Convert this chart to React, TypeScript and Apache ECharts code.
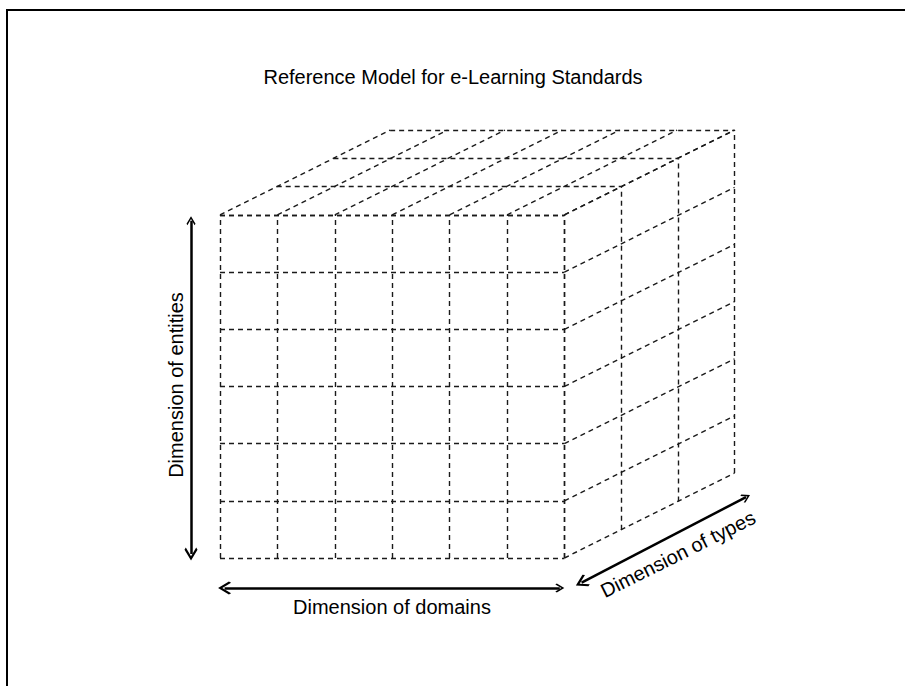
import React, { useEffect, useRef } from "react";
import * as echarts from "echarts";

// Cube structure (cell boundaries along each dimension)
const DOMAIN_TICKS = [0, 1, 2, 3, 4, 5, 6]; // dimension of domains (columns)
const ENTITY_TICKS = [0, 1, 2, 3, 4, 5, 6]; // dimension of entities (rows)
const TYPE_TICKS = [0, 1, 2, 3]; // dimension of types (depth layers)

const TITLE = "Reference Model for e-Learning Standards";
const LABEL_ENTITIES = "Dimension of entities";
const LABEL_DOMAINS = "Dimension of domains";
const LABEL_TYPES = "Dimension of types";

// oblique projection of the depth axis
const KX = 0.988;
const KY = 0.495;
const proj = (x: number, y: number, z: number): number[] => [x + z * KX, y + z * KY];

// layout: pixel size of one cell and origin of the cube's front-bottom-left corner
const CELL_W = 57.4;
const CELL_H = 57.17;
const ORIGIN_X = 220;
const ORIGIN_Y = 558;
const W = 905;
const H = 686;

const FONT = '"Liberation Sans", Arial, Helvetica, sans-serif';

export default function App() {
  const ref = useRef<HTMLDivElement>(null);
  useEffect(() => {
    document.body.style.margin = "0";
    if (!ref.current) return;
    const chart = echarts.init(ref.current, null, { renderer: "svg" });

    const NX = DOMAIN_TICKS[DOMAIN_TICKS.length - 1];
    const NY = ENTITY_TICKS[ENTITY_TICKS.length - 1];
    const NZ = TYPE_TICKS[TYPE_TICKS.length - 1];

    const segs: { coords: number[][] }[] = [];
    const seg = (a: number[], b: number[]) => segs.push({ coords: [a, b] });
    // front face
    DOMAIN_TICKS.forEach((x) => seg(proj(x, 0, 0), proj(x, NY, 0)));
    ENTITY_TICKS.forEach((y) => seg(proj(0, y, 0), proj(NX, y, 0)));
    // top face
    DOMAIN_TICKS.forEach((x) => seg(proj(x, NY, 0), proj(x, NY, NZ)));
    TYPE_TICKS.forEach((z) => seg(proj(0, NY, z), proj(NX, NY, z)));
    // right face
    ENTITY_TICKS.forEach((y) => seg(proj(NX, y, 0), proj(NX, y, NZ)));
    TYPE_TICKS.forEach((z) => seg(proj(NX, 0, z), proj(NX, NY, z)));

    // dimension arrows (in cube units)
    const arrows = [
      { coords: [proj(-0.505, 0.07, 0), proj(-0.505, NY - 0.1, 0)] },
      { coords: [proj(0.08, -0.525, 0), proj(NX - 0.08, -0.525, 0)] },
      { coords: [[NX + 0.3, -0.43], [NX + 0.25 + NZ * KX - 0.05, -0.4 + NZ * KY - 0.02]] },
    ];

    const chevron = "path://M6,0 L12,6.4 L10.8,7.7 L6,2.5 L1.2,7.7 L0,6.4 Z";

    const xMin = -ORIGIN_X / CELL_W;
    const xMax = (W - ORIGIN_X) / CELL_W;
    const yMin = -(H - ORIGIN_Y) / CELL_H;
    const yMax = ORIGIN_Y / CELL_H;

    chart.setOption({
      animation: false,
      backgroundColor: "#ffffff",
      grid: { left: 0, top: 0, right: 0, bottom: 0, containLabel: false },
      xAxis: { type: "value", min: xMin, max: xMax, show: false },
      yAxis: { type: "value", min: yMin, max: yMax, show: false },
      series: [
        {
          type: "lines",
          coordinateSystem: "cartesian2d",
          silent: true,
          symbol: "none",
          clip: false,
          lineStyle: { color: "#1a1a1a", width: 1.4, type: [5, 4], opacity: 1 },
          data: segs,
        },
        {
          type: "lines",
          coordinateSystem: "cartesian2d",
          silent: true,
          clip: false,
          symbol: [chevron, chevron],
          symbolSize: [13, 9],
          lineStyle: { color: "#000", width: 2.5, type: "solid", opacity: 1 },
          itemStyle: { color: "#000" },
          data: arrows,
        },
      ],
      graphic: [
        {
          type: "rect",
          shape: { x: 7, y: 10, width: 1200, height: 1200 },
          style: { fill: "none", stroke: "#000", lineWidth: 2 },
          silent: true,
        },
        {
          type: "text",
          x: 453,
          y: 77,
          style: { text: TITLE, fontSize: 20, fontFamily: FONT, fill: "#000", align: "center", verticalAlign: "middle" },
        },
        {
          type: "text",
          x: 176,
          y: 385,
          rotation: Math.PI / 2,
          style: { text: LABEL_ENTITIES, fontSize: 20, fontFamily: FONT, fill: "#000", align: "center", verticalAlign: "middle" },
        },
        {
          type: "text",
          x: 392,
          y: 607,
          style: { text: LABEL_DOMAINS, fontSize: 20, fontFamily: FONT, fill: "#000", align: "center", verticalAlign: "middle" },
        },
        {
          type: "text",
          x: 678,
          y: 554,
          rotation: Math.atan(KY / KX * (CELL_H / CELL_W)),
          style: { text: LABEL_TYPES, fontSize: 20, fontFamily: FONT, fill: "#000", align: "center", verticalAlign: "middle" },
        },
      ],
    });
    return () => chart.dispose();
  }, []);
  return <div ref={ref} style={{ position: "absolute", left: 0, top: 0, width: W, height: H }} />;
}
